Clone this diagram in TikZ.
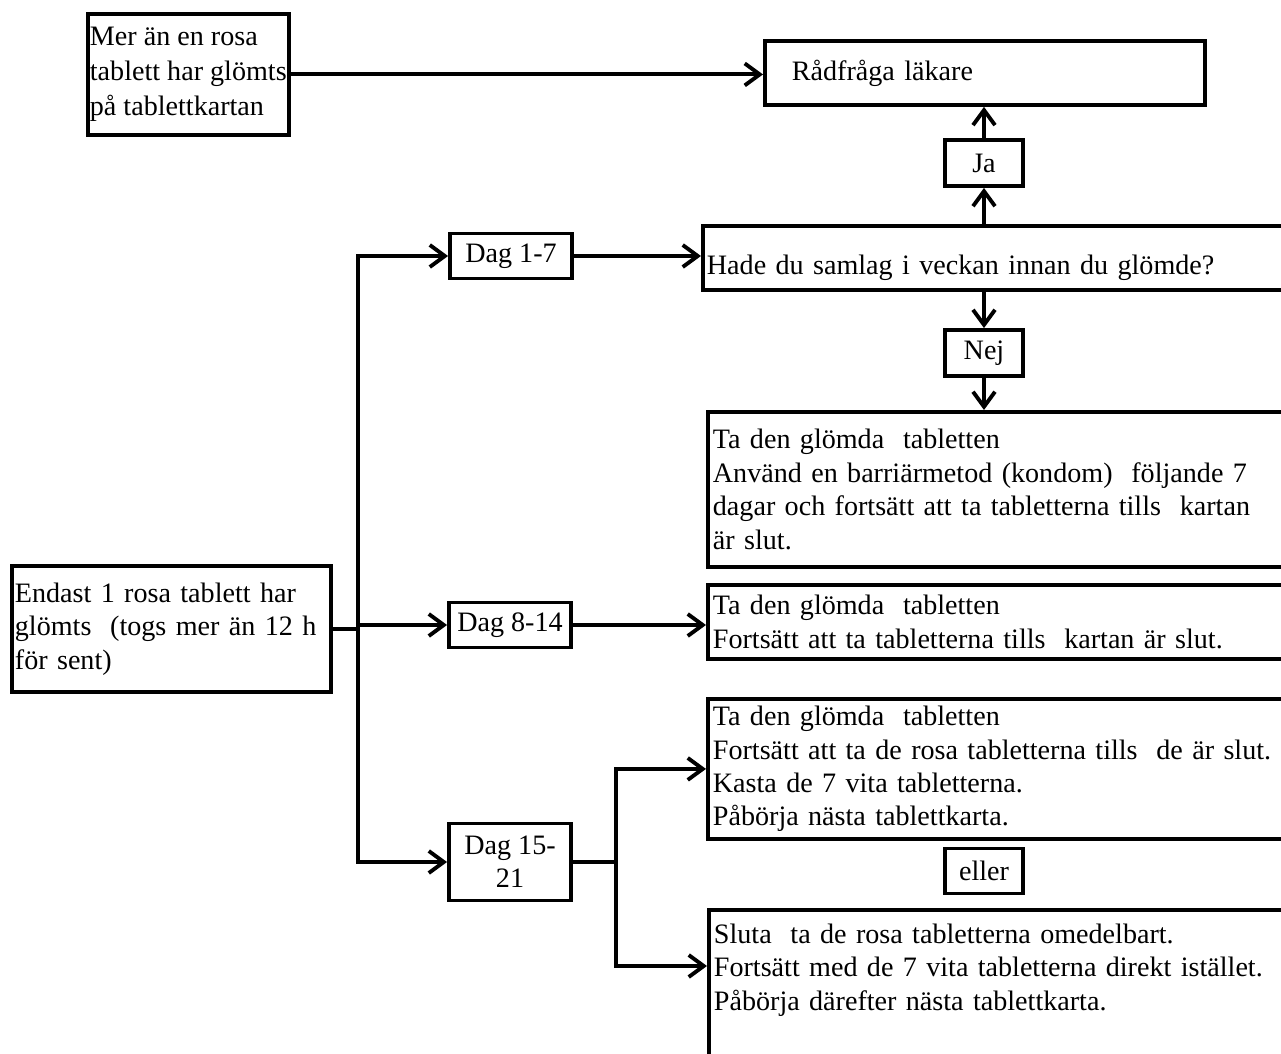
\documentclass[tikz,border=0pt]{standalone}
\usepackage{fontspec}
\setmainfont{Liberation Serif}
\usetikzlibrary{arrows.meta}
\newlength\pxu
\setlength\pxu{0.02cm}

\begin{document}
\begin{tikzpicture}[x=0.02cm,y=-0.02cm,>={Straight Barb[length=3mm,width=4.4mm]},line width=2.2pt,
  font=\fontsize{16}{19}\selectfont,
  box/.style={draw,inner sep=0pt},
  tag/.style={box,minimum width=78\pxu,minimum height=46\pxu},
  dag/.style={box,align=center,minimum width=122\pxu,minimum height=45\pxu},
  wide/.style={box,anchor=north west,align=left,text width=640\pxu,inner xsep=5\pxu}]
\useasboundingbox (0,0) rectangle (1281,1054);
\node[box,anchor=north west,align=left,inner xsep=2\pxu,minimum width=196\pxu,minimum height=121\pxu,font=\fontsize{16}{20}\selectfont] (many) at (86,12) {Mer än en rosa\\tablett har glömts\\på tablettkartan};
\node[box,anchor=north west,align=left,text width=386\pxu,inner xsep=27\pxu,minimum height=64\pxu] (doctor) at (763,39) {Rådfråga läkare};
\node[tag] (yes) at (984,163) {Ja};
\node[wide,inner xsep=4\pxu,minimum height=64\pxu,text height=49\pxu,text depth=15\pxu] (week) at (701,224) {Hade du samlag i veckan innan du glömde?};
\node[tag] (no) at (984,353) {Nej};
\node[wide,minimum height=155\pxu] (takeA) at (706,410) {Ta den glömda\ \ tabletten\\Använd en barriärmetod (kondom)\ \ följande 7\\dagar och fortsätt att ta tabletterna tills\ \ kartan\\är slut.};
\node[box,anchor=north west,align=left,text width=313\pxu,inner xsep=3\pxu,minimum height=126\pxu] (single) at (10,564) {Endast 1 rosa tablett har\\glömts\ \ (togs mer än 12 h\\för sent)};
\node[dag] (d1) at (511,256) {Dag 1-7};
\node[dag] (d2) at (510,625) {Dag 8-14};
\node[dag,minimum height=77\pxu] (d3) at (510,862) {Dag 15-\\21};
\node[wide,minimum height=74\pxu] (takeB) at (706,583) {Ta den glömda\ \ tabletten\\Fortsätt att ta tabletterna tills\ \ kartan är slut.};
\node[wide,minimum height=140\pxu] (takeC) at (706,697) {Ta den glömda\ \ tabletten\\Fortsätt att ta de rosa tabletterna tills\ \ de är slut.\\Kasta de 7 vita tabletterna.\\Påbörja nästa tablettkarta.};
\node[tag,minimum height=45\pxu] (or) at (984,871) {eller};
\node[wide,minimum height=181\pxu] (stop) at (707,908) {Sluta\ \ ta de rosa tabletterna omedelbart.\\Fortsätt med de 7 vita tabletterna direkt istället.\\Påbörja därefter nästa tablettkarta.\\\mbox{}\\\mbox{}};
\coordinate (trunk) at (358,0);
\coordinate (fork) at (616,0);
\coordinate (stopin) at (707,966);
% rosa tabletter
\draw[->] (many) -- (many -| doctor.west);
\draw[->] (yes) -- (yes |- doctor.south);
\draw[->] (yes |- week.north) -- (yes);
\draw[->] (no |- week.south) -- (no);
\draw[->] (no) -- (no |- takeA.north);
% dagar
\draw (single) -- (single -| trunk);
\draw[<->] (d1) -- (d1 -| trunk) -- (d3 -| trunk) -- (d3);
\draw[->] (trunk |- d2) -- (d2);
\draw[->] (d1) -- (d1 -| week.west);
\draw[->] (d2) -- (d2 -| takeB.west);
\draw (d3) -- (d3 -| fork);
\draw[<->] (takeC.west) -- (takeC.west -| fork) -- (fork |- stopin) -- (stopin);
\end{tikzpicture}
\end{document}
